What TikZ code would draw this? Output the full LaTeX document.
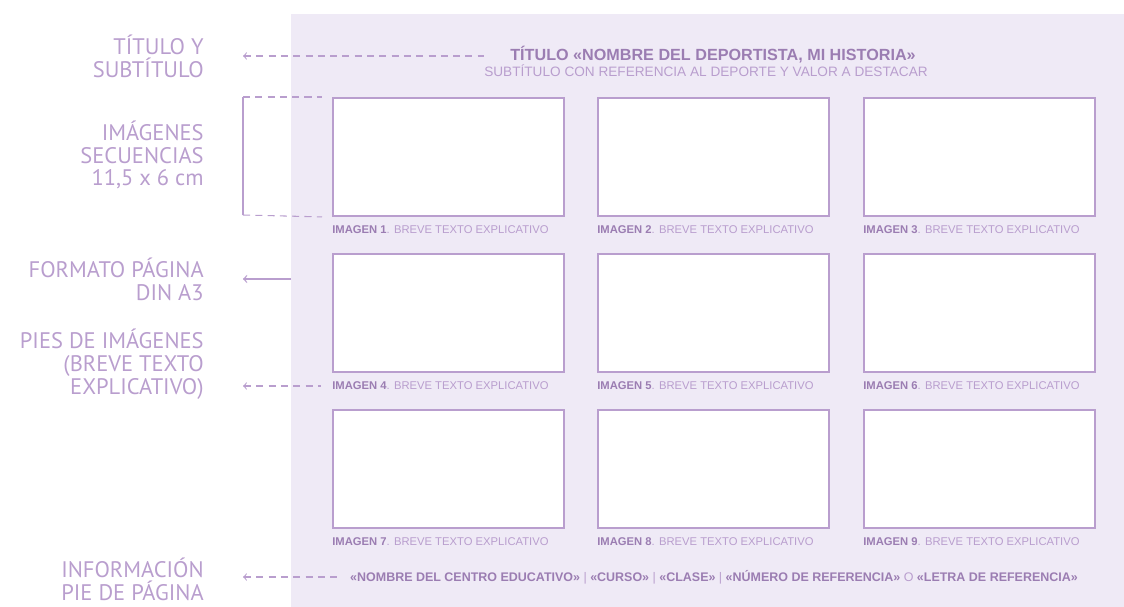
\documentclass[tikz,border=0pt]{standalone}
\usepackage{fontspec}
\setmainfont{Liberation Sans}
\newfontfamily\rotulofont{PT Sans}
\usetikzlibrary{arrows,positioning}
\definecolor{panelbg}{RGB}{239,234,246}
\definecolor{lila}{RGB}{185,158,206}
\definecolor{lilaosc}{RGB}{155,125,178}
\definecolor{lilaclaro}{RGB}{225,214,236}
\tikzset{
	rotulo/.style={anchor=east, align=right, text=lila, font=\rotulofont\fontsize{12.8}{13}\selectfont, inner sep=0pt},
	foto/.style={draw=lila, line width=1.1pt, fill=white, minimum width=4.62cm, minimum height=2.36cm, anchor=north west, inner sep=0pt},
	pie/.style={anchor=west, text=lila, font=\fontsize{6.4}{7}\selectfont, inner sep=0pt},
	guia/.style={draw=lila, dashed, dash pattern=on 4pt off 3pt, line width=0.6pt}
}
\begin{document}
\begin{tikzpicture}[x=0.02cm, y=-0.02cm]
		\useasboundingbox (0,0) rectangle (1124,607);
		\fill[panelbg] (291,14) rectangle (1124,607);
		
		% textos de la izquierda
		\node[rotulo] (titulo) at (204,56) {TÍTULO Y\\SUBTÍTULO};
		\node[rotulo] (imagenes) at (204,155) {IMÁGENES\\SECUENCIAS\\11,5 x 6 cm};
		\node[rotulo] (formato) at (204,279) {FORMATO PÁGINA\\DIN A3};
		\node[rotulo] (pies) at (204,364) {PIES DE IMÁGENES\\(BREVE TEXTO\\EXPLICATIVO)};
		\node[rotulo] (info) at (204,579) {INFORMACIÓN\\PIE DE PÁGINA};
		
		% cabecera
		\node[text=lilaosc, font=\fontsize{9.2}{9}\selectfont\bfseries, inner sep=0pt] (cabecera) at (713,55) {TÍTULO «NOMBRE DEL DEPORTISTA, MI HISTORIA»};
		\node[text=lila, font=\fontsize{7.75}{8}\selectfont, inner sep=0pt] (subtitulo) at (706,71) {SUBTÍTULO CON REFERENCIA AL DEPORTE Y VALOR A DESTACAR};
		
		% imagenes y pies
		\foreach \fila/\y in {0/97,1/253,2/409} {
			\foreach \col/\x in {1/332,2/597,3/863} {
				\pgfmathtruncatemacro{\num}{3*\fila+\col}
				\node[foto] (img\num) at (\x,\y) {};
				\node[pie] (pie\num) at (\x,\y+133) {\textcolor{lilaosc}{\bfseries IMAGEN \num}. BREVE TEXTO EXPLICATIVO};
			}
		}
		
		% pie de pagina
		\node[text=lilaosc, font=\fontsize{7.1}{8}\selectfont\bfseries, inner sep=0pt] (piepagina) at (714,577) {«NOMBRE DEL CENTRO EDUCATIVO» \textmd{\color{lila}|} «CURSO» \textmd{\color{lila}|} «CLASE» \textmd{\color{lila}|} «NÚMERO DE REFERENCIA» \textmd{\color{lila}O} «LETRA DE REFERENCIA»};
		
		% guias
		\coordinate (a1) at (243,56);
		\coordinate (a2) at (484,56);
		\draw[guia,<-] (a1) -- (a2);
		
		\coordinate (b1) at (243,97);
		\coordinate (b2) at (243,215);
		\draw[lila, line width=0.6pt] (b1) -- (b2);
		\draw[guia] (b1) -- (img1.north west -| 322,0);
		\draw[guia] (b2) -- (img1.south west -| 322,0);
		
		\coordinate (c1) at (243,279);
		\coordinate (c2) at (291,279);
		\draw[lilaclaro, line width=0.8pt, <-] (c1) -- (c2);
		\draw[lila, line width=0.6pt, ->] (c2) -- (c1);
		
		\coordinate (d1) at (243,386);
		\draw[guia,<-] (d1) -- ([xshift=-6pt]pie4.west);
		
		\coordinate (e1) at (243,577);
		\draw[guia,<-] (e1) -- ([xshift=-5pt]piepagina.west);
\end{tikzpicture}
\end{document}
